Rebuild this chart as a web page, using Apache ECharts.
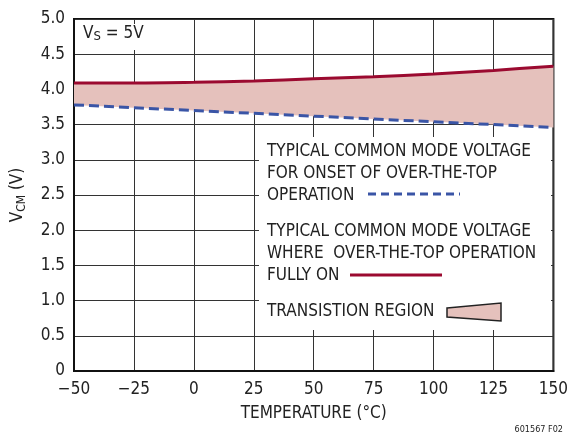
<!DOCTYPE html>
<html>
<head>
<meta charset="utf-8">
<script src="https://cdn.jsdelivr.net/npm/echarts@6/dist/echarts.min.js"></script>
<style>
  html, body { margin: 0; padding: 0; background: #fff; }
  #chart { width: 571px; height: 436px; }
</style>
</head>
<body>
<div id="chart"></div>
<script>
// temperature (°C)
var temps = [-50, -25, 0, 25, 50, 75, 100, 125, 150]
// VCM where over-the-top fully on (V)
var fullyOn = [4.09, 4.09, 4.10, 4.12, 4.15, 4.18, 4.22, 4.27, 4.33]
// VCM for onset of over-the-top (V)
var onset = [3.78, 3.74, 3.70, 3.66, 3.62, 3.58, 3.54, 3.50, 3.46]

var legendLines1 = ['TYPICAL COMMON MODE VOLTAGE', 'FOR ONSET OF OVER-THE-TOP', 'OPERATION']
var legendLines2 = ['TYPICAL COMMON MODE VOLTAGE', 'WHERE  OVER-THE-TOP OPERATION', 'FULLY ON']
var legendLine3 = 'TRANSISTION REGION'

var FONT = "'Liberation Sans Narrow', 'DejaVu Sans Condensed', sans-serif"
var RED = '#9b0a30'
var BLUE = '#3a55a6'
var PINK = '#e5c1bc'

function pairs (ys) {
  return temps.map(function (t, i) { return [t, ys[i]] })
}

function legendText (lines, top) {
  return lines.map(function (s, i) {
    return {
      type: 'text', z: 110, left: 267, top: top + i * 22,
      style: { text: s, font: '17px ' + FONT, fill: '#222' }
    }
  })
}

// band between the two curves, drawn through the axis scales
function renderBand (params, api) {
  var pts = []
  temps.forEach(function (t, i) { pts.push(api.coord([t, fullyOn[i]])) })
  for (var i = temps.length - 1; i >= 0; i--) pts.push(api.coord([temps[i], onset[i]]))
  return {
    type: 'polygon',
    shape: { points: pts },
    style: { fill: PINK }
  }
}

var chart = echarts.init(document.getElementById('chart'))
chart.setOption({
  animation: false,
  backgroundColor: '#fff',
  grid: {
    left: 74, right: 17, top: 19, bottom: 65,
    show: true, borderColor: '#111', borderWidth: 2
  },
  xAxis: {
    type: 'value', min: -50, max: 150, interval: 25,
    name: 'TEMPERATURE (°C)', nameLocation: 'middle', nameGap: 34,
    nameTextStyle: { fontFamily: FONT, fontSize: 17, color: '#222' },
    axisLine: { show: true, onZero: false, lineStyle: { color: '#111', width: 2 } },
    axisTick: { show: false },
    axisLabel: {
      margin: 10, fontFamily: FONT, fontSize: 17, color: '#222',
      formatter: function (v) { return v < 0 ? '\u2212' + Math.abs(v) : String(v) }
    },
    splitLine: { show: true, lineStyle: { color: '#333', width: 1 } }
  },
  yAxis: {
    type: 'value', min: 0, max: 5, interval: 0.5,
    name: '{a|V}{s|CM}{a| (V)}', nameLocation: 'middle', nameGap: 46, nameRotate: 90,
    nameTextStyle: {
      rich: {
        a: { fontFamily: FONT, fontSize: 17, color: '#222' },
        s: { fontFamily: FONT, fontSize: 12, color: '#222', padding: [8, 0, 0, 0] }
      }
    },
    axisLine: { show: true, onZero: false, lineStyle: { color: '#111', width: 2 } },
    axisTick: { show: false },
    axisLabel: {
      margin: 9, fontFamily: FONT, fontSize: 17, color: '#222',
      formatter: function (v) { return v === 0 ? '0' : v.toFixed(1) }
    },
    splitLine: { show: true, lineStyle: { color: '#333', width: 1 } }
  },
  series: [
    {
      name: 'transition', type: 'custom', renderItem: renderBand,
      data: [[temps[0], onset[0]]], silent: true, z: 1
    },
    {
      name: 'fully on', type: 'line', symbol: 'none', smooth: 0.3, z: 3,
      data: pairs(fullyOn), lineStyle: { color: RED, width: 3 }
    },
    {
      name: 'onset', type: 'line', symbol: 'none', z: 3,
      data: pairs(onset), lineStyle: { color: BLUE, width: 3, type: [10, 5] }
    }
  ],
  graphic: [
    // box behind Vs label
    { type: 'rect', z: 100, shape: { x: 76, y: 24, width: 66, height: 26 }, style: { fill: '#fff' } },
    {
      type: 'text', z: 110, left: 83, top: 25,
      style: {
        text: '{a|V}{s|S}{a| = 5V}',
        rich: {
          a: { fontFamily: FONT, fontSize: 17, fill: '#222' },
          s: { fontFamily: FONT, fontSize: 13, fill: '#222', padding: [7, 0, 0, 0] }
        }
      }
    },
    // legend box
    { type: 'rect', z: 100, shape: { x: 259, y: 137, width: 292, height: 193 }, style: { fill: '#fff' } }
  ].concat(legendText(legendLines1, 143), legendText(legendLines2, 223), legendText([legendLine3], 303), [
    { type: 'line', z: 110, shape: { x1: 368, y1: 194, x2: 460, y2: 194 }, style: { stroke: BLUE, lineWidth: 3, lineDash: [8, 5] } },
    { type: 'line', z: 110, shape: { x1: 350, y1: 275, x2: 442, y2: 275 }, style: { stroke: RED, lineWidth: 3 } },
    {
      type: 'polygon', z: 110,
      shape: { points: [[447, 308], [501, 303], [501, 321], [447, 317]] },
      style: { fill: PINK, stroke: '#222', lineWidth: 1.5 }
    },
    {
      type: 'text', z: 110, right: 8, top: 425,
      style: { text: '601567 F02', font: '9px ' + FONT, fill: '#222' }
    }
  ])
})
</script>
</body>
</html>
